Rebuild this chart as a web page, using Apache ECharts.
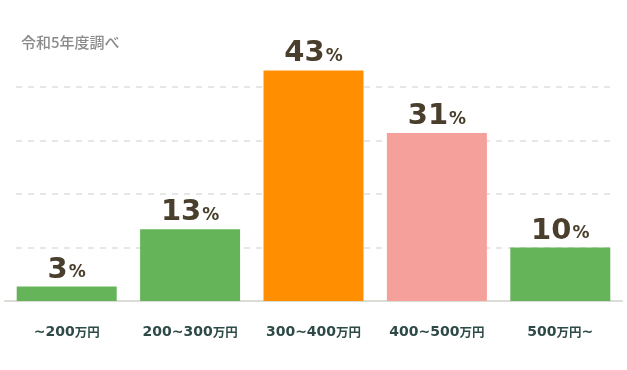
<!DOCTYPE html>
<html><head><meta charset="utf-8">
<script src="https://cdn.jsdelivr.net/npm/echarts@6/dist/echarts.min.js"></script>
<style>html,body{margin:0;padding:0;background:#fff}#c{width:627px;height:370px}</style>
</head><body><div id="c"></div>
<script>
const categories = ['~200万円', '200~300万円', '300~400万円', '400~500万円', '500万円~'];
const values = [2.7, 13.4, 43.1, 31.4, 10];
const labelTexts = ['3', '13', '43', '31', '10'];
const barColors = ['#66b45a', '#66b45a', '#ff8f00', '#f5a09b', '#66b45a'];
const yTicks = [0, 10, 20, 30, 40, 50];
const titleText = '令和5年度調べ';

const chart = echarts.init(document.getElementById('c'));
const numFont = '"DejaVu Sans", sans-serif';
chart.setOption({
  animation: false,
  title: {text: titleText, left: 16, top: 30, textStyle: {fontFamily: '"Noto Sans CJK JP", sans-serif', fontSize: 15, fontWeight: 500, color: '#8a8a8a'}},
  grid: [
    {left: 5, right: 5, top: 33.5, bottom: 69},
    {left: 16, right: 17, top: 33.5, bottom: 69}
  ],
  xAxis: [
    {type: 'category', gridIndex: 0, data: categories,
     axisLine: {lineStyle: {color: '#dcdcd6', width: 2}},
     axisTick: {show: false},
     axisLabel: {margin: 24, interval: 0,
       formatter: v => '{d|' + v.replace('万円', '}{u|万円}{d|') + '}',
       rich: {
         d: {fontFamily: numFont, fontSize: 14, fontWeight: 'bold', color: '#2e4a47'},
         u: {fontFamily: '"Noto Sans CJK JP", sans-serif', fontSize: 12.5, fontWeight: 'bold', color: '#2e4a47'}
       }}},
    {type: 'category', gridIndex: 1, data: categories, show: false}
  ],
  yAxis: [
    {type: 'value', gridIndex: 0, min: yTicks[0], max: yTicks[yTicks.length-1], interval: 10, show: false},
    {type: 'value', gridIndex: 1, min: yTicks[0], max: yTicks[yTicks.length-1], interval: 10,
     axisLine: {show: false}, axisTick: {show: false}, axisLabel: {show: false},
     splitLine: {show: true, showMinLine: false, showMaxLine: false,
       lineStyle: {type: [6, 6], color: '#e6e6e4', width: 2}}}
  ],
  series: [{
    type: 'bar', xAxisIndex: 0, yAxisIndex: 0,
    data: values, barWidth: 100,
    itemStyle: {color: p => barColors[p.dataIndex]},
    label: {show: true, position: 'top', distance: 2,
      formatter: p => '{n|' + labelTexts[p.dataIndex] + '}{p|%}',
      rich: {
        n: {fontFamily: numFont, fontSize: 29, fontWeight: 'bold', color: '#4a3e2c'},
        p: {fontFamily: numFont, fontSize: 17, fontWeight: 'bold', color: '#4a3e2c', padding: [6, 0, 0, 1]}
      }}
  }]
});
</script></body></html>
